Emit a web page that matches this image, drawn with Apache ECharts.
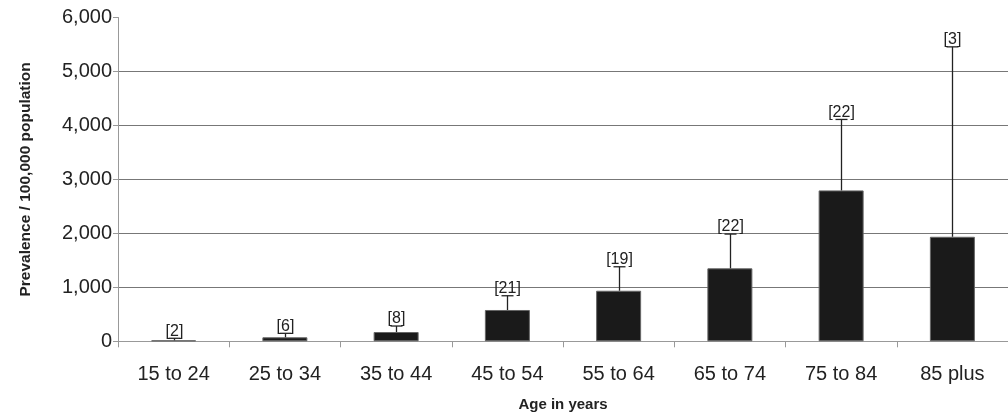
<!DOCTYPE html>
<html><head><meta charset="utf-8">
<script src="https://cdn.jsdelivr.net/npm/echarts@6/dist/echarts.min.js"></script>
<style>html,body{margin:0;padding:0;background:#fff}#c{width:1008px;height:420px}</style>
</head><body><div id="c"></div>
<script>
const categories = ['15 to 24','25 to 34','35 to 44','45 to 54','55 to 64','65 to 74','75 to 84','85 plus'];
const prevalence = [18, 74, 172, 580, 937, 1352, 2796, 1937];
const upperCI = [56, 148, 283, 844, 1381, 1987, 4111, 5456];
const counts = ['[2]','[6]','[8]','[21]','[19]','[22]','[22]','[3]'];
const yTicks = [0, 1000, 2000, 3000, 4000, 5000, 6000];

const FONT = '"Liberation Sans", Arial, sans-serif';
const chart = echarts.init(document.getElementById('c'));
chart.setOption({
  animation: false,
  grid: { left: 118, right: -2, top: 17.5, bottom: 78.7 },
  xAxis: {
    type: 'category', data: categories,
    name: 'Age in years', nameLocation: 'middle', nameGap: 56,
    nameTextStyle: { fontFamily: FONT, fontSize: 15, fontWeight: 'bold', color: '#222' },
    axisLine: { lineStyle: { color: '#999', width: 1 } },
    axisTick: { show: true, length: 6, lineStyle: { color: '#999' } },
    axisLabel: { fontFamily: FONT, fontSize: 20, color: '#222', margin: 23 }
  },
  yAxis: {
    type: 'value', min: yTicks[0], max: yTicks[yTicks.length-1], interval: 1000,
    name: 'Prevalence / 100,000 population', nameLocation: 'middle', nameGap: 84,
    nameTextStyle: { fontFamily: FONT, fontSize: 15.5, fontWeight: 'bold', color: '#222' },
    axisLine: { show: true, lineStyle: { color: '#999', width: 1 } },
    axisTick: { show: true, length: 5, lineStyle: { color: '#999' } },
    axisLabel: { fontFamily: FONT, fontSize: 20, color: '#222', margin: 6,
      formatter: v => v.toLocaleString('en-US') },
    splitLine: { show: true, showMaxLine: false, lineStyle: { color: '#777', width: 1 } }
  },
  series: [
    {
      type: 'bar', data: prevalence, barWidth: 45,
      itemStyle: { color: '#1a1a1a', borderColor: '#666', borderWidth: 1 }
    },
    {
      type: 'custom',
      data: upperCI.map((u, i) => [i, prevalence[i], u]),
      z: 5,
      renderItem: function (params, api) {
        const i = api.value(0);
        const p0 = api.coord([i, api.value(1)]);
        const p1 = api.coord([i, api.value(2)]);
        const x = Math.round(p0[0]) + 0.5;
        return {
          type: 'group',
          children: [
            { type: 'line', shape: { x1: x, y1: p0[1], x2: x, y2: p1[1] }, style: { stroke: '#222', lineWidth: 1.3 } },
            { type: 'line', shape: { x1: x - 6, y1: p1[1], x2: x + 6, y2: p1[1] }, style: { stroke: '#222', lineWidth: 1.3 } },
            { type: 'text', x: x, y: p1[1] + 1, style: { text: counts[params.dataIndex], fill: '#222', font: '16px ' + FONT, textAlign: 'center', textVerticalAlign: 'bottom' } }
          ]
        };
      }
    }
  ]
});
</script></body></html>
